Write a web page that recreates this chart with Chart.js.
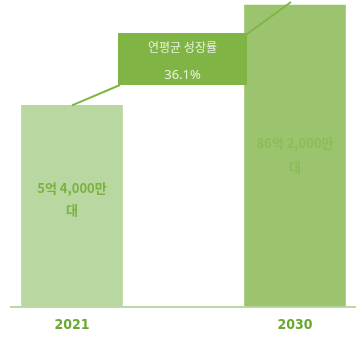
<!DOCTYPE html>
<html>
<head>
<meta charset="utf-8">
<script src="https://cdn.jsdelivr.net/npm/chart.js@4"></script>
<style>
  html, body { margin: 0; padding: 0; background: #fff; }
  #wrap { width: 356px; height: 338px; position: relative; }
</style>
</head>
<body>
<div id="wrap"><canvas id="chart"></canvas></div>
<script>
// data (bars are drawn to the picture's own, not-to-scale heights)
const years = ['2021', '2030'];
const barHeights = [2, 3];
const barLabels = [['5억 4,000만', '대'], ['86억 2,000만', '대']];
const growthLabel = ['연평균 성장률', '36.1%'];

const barColors = ['#b9d7a0', '#9cc36e'];
const labelColors = ['#7bb23f', '#8cbd58'];
const boxColor = '#80b545';
const labelRows = [[188, 210], [143, 167]];

// baseline, connector line, growth box and in-bar labels
const overlay = {
    id: 'overlay',
    beforeDatasetsDraw(chart) {
        const ctx = chart.ctx;
        const y = chart.chartArea.bottom + 1;
        ctx.save();
        ctx.strokeStyle = '#bcd9a4';
        ctx.lineWidth = 2;
        ctx.beginPath();
        ctx.moveTo(10, y);
        ctx.lineTo(356, y);
        ctx.stroke();
        ctx.restore();
    },
    afterDatasetsDraw(chart) {
        const ctx = chart.ctx;
        const meta = chart.getDatasetMeta(0);
        const b0 = meta.data[0], b1 = meta.data[1];
        const boxL = b0.x + 46, boxR = b1.x - 48, boxT = 33, boxB = 85;

        ctx.save();
        ctx.strokeStyle = boxColor;
        ctx.lineWidth = 2;
        ctx.beginPath();
        ctx.moveTo(b0.x, b0.y);
        ctx.lineTo(boxL + 2, boxB);
        ctx.moveTo(boxR - 4, boxT + 4);
        ctx.lineTo(b1.x - 4, b1.y - 3);
        ctx.stroke();

        ctx.fillStyle = boxColor;
        ctx.fillRect(boxL, boxT, boxR - boxL, boxB - boxT);
        ctx.fillStyle = '#e6f0da';
        ctx.textAlign = 'center';
        ctx.textBaseline = 'middle';
        ctx.font = '12px "Noto Sans CJK KR", "Noto Sans"';
        ctx.fillText(growthLabel[0], (boxL + boxR) / 2, boxT + 14);
        ctx.font = '13px "Noto Sans", "Noto Sans CJK KR"';
        ctx.fillText(growthLabel[1], (boxL + boxR) / 2, boxT + 42);

        ctx.font = 'bold 13px "Noto Sans CJK KR", "Noto Sans"';
        meta.data.forEach((bar, i) => {
            ctx.fillStyle = labelColors[i];
            ctx.fillText(barLabels[i][0], bar.x, labelRows[i][0]);
            ctx.fillText(barLabels[i][1], bar.x, labelRows[i][1]);
        });
        ctx.restore();
    }
};

new Chart(document.getElementById('chart'), {
    type: 'bar',
    data: {
        labels: years,
        datasets: [{
            data: barHeights,
            backgroundColor: barColors,
            borderWidth: 0,
            barThickness: 101,
            clip: false
        }]
    },
    options: {
        responsive: true,
        maintainAspectRatio: false,
        animation: false,
        layout: { padding: { top: 5, left: 72, right: 61, bottom: 4 } },
        plugins: { legend: { display: false }, tooltip: { enabled: false } },
        scales: {
            x: {
                offset: false,
                grid: { display: false, drawTicks: false },
                border: { display: false },
                afterFit: (s) => { s.height = 28; },
                ticks: {
                    color: '#6aa832',
                    padding: 11,
                    maxRotation: 0,
                    font: { size: 14, weight: 'bold', family: '"DejaVu Sans Condensed", "Noto Sans"' }
                }
            },
            y: {
                display: false,
                min: 0,
                max: 3
            }
        }
    },
    plugins: [overlay]
});
</script>
</body>
</html>
